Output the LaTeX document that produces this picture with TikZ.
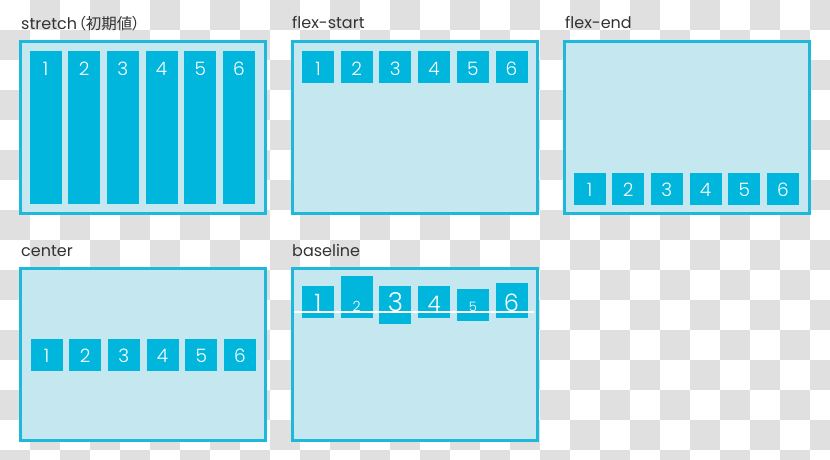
\documentclass[tikz,border=0pt]{standalone}
\usepackage{fontspec}
\setmainfont{Poppins}
\newfontfamily\cjk{Noto Sans CJK JP}[RawFeature=+palt]
\IfFontExistsTF{Poppins Light}{\newfontfamily\numfont{Poppins Light}}{\newfontfamily\numfont{Poppins}}
\definecolor{frameline}{HTML}{1DB8DA}
\definecolor{framefill}{HTML}{C5E7EF}
\definecolor{itemfill}{HTML}{00B6DC}
\definecolor{checkgray}{HTML}{E0E0E0}
\definecolor{labeltext}{HTML}{333333}
\begin{document}
\begin{tikzpicture}[x=1pt,y=-1pt,
  panel/.style={draw=frameline, line width=3pt, fill=framefill, minimum width=245pt, minimum height=172pt, inner sep=0pt, outer sep=0pt, anchor=north west},
  item/.style={fill=itemfill, minimum width=32pt, minimum height=32pt, inner sep=0pt, outer sep=0pt, anchor=north west},
  digit/.style={text=white, font=\numfont\fontsize{18.5}{20}\selectfont, anchor=base, inner sep=0pt},
  title/.style={text=labeltext, font=\fontsize{16}{19}\selectfont, anchor=base west, inner sep=0pt},
  baseline line/.style={draw=white, line width=2pt}
]
\useasboundingbox (0,0) rectangle (830,459);
\fill[white] (0,0) rectangle (830,459);
% checkerboard background
\foreach \j in {0,...,15}{
  \pgfmathtruncatemacro\st{mod(\j+1,2)}
  \foreach \i in {0,2,...,26}{
    \fill[checkgray] ({(\i+\st)*30},{\j*30}) rectangle ++(30,30);
  }
}
% titles
\node[title] (tstretch) at (21,29) {stretch\hspace{1pt}{\cjk\fontsize{15.5}{18}\selectfont （初期値）}};
\node[title] (tstart) at (292,28) {flex-start};
\node[title] (tend) at (565,28) {flex-end};
\node[title] (tcenter) at (21,256) {center};
\node[title] (tbase) at (292,256) {baseline};
% panels
\node[panel] (pstretch) at (20,41.5) {};
\node[panel] (pstart) at (292.5,41.5) {};
\node[panel] (pend) at (564.5,41.5) {};
\node[panel] (pcenter) at (20,268.5) {};
\node[panel] (pbase) at (292.5,268.5) {};
% stretch
\foreach \k in {1,...,6}{
  \node[item, minimum height=153pt] (s\k) at ({18.5+11+(\k-1)*38.7},51) {};
  \node[digit] (sd\k) at ([yshift=-24pt]s\k.north) {\k};
}
% flex-start
\foreach \k in {1,...,6}{
  \node[item] (f\k) at ({291+11+(\k-1)*38.7},51) {};
  \node[digit] (fd\k) at ([yshift=-24pt]f\k.north) {\k};
}
% flex-end
\foreach \k in {1,...,6}{
  \node[item] (e\k) at ({563+10.5+(\k-1)*38.7},172.5) {};
  \node[digit] (ed\k) at ([yshift=-24pt]e\k.north) {\k};
}
% center
\foreach \k in {1,...,6}{
  \node[item] (c\k) at ({18.5+12+(\k-1)*38.7},338.5) {};
  \node[digit] (cd\k) at ([yshift=-24pt]c\k.north) {\k};
}
% baseline
\foreach \k/\top/\h/\fs in {1/286/32/24, 2/276/42/14, 3/286/38/26, 4/286/32/21.5, 5/289/32/13, 6/283/35/24}{
  \node[item, minimum height=\h pt] (b\k) at ({291+11+(\k-1)*38.7},\top) {};
  \node[digit, font=\numfont\fontsize{\fs}{\fs}\selectfont] (bd\k) at ([yshift={-(311-\top)*1pt}]b\k.north) {\k};
}
\coordinate (bl0) at (294,312);
\coordinate (bl1) at (534,312);
\draw[baseline line] (bl0) -- (bl1);
\end{tikzpicture}
\end{document}
